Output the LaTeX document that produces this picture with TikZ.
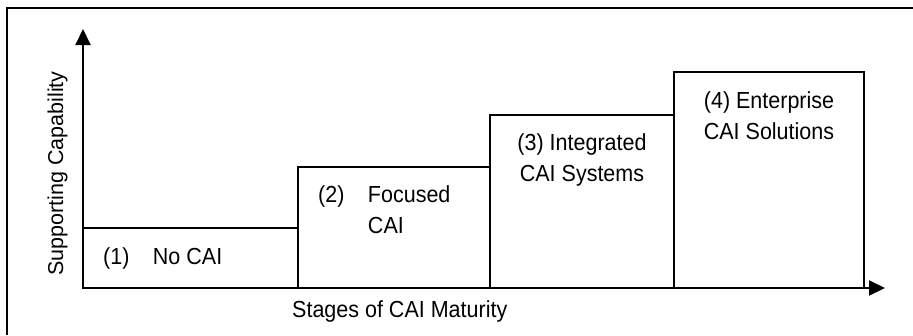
\documentclass[tikz,border=0pt]{standalone}
\usepackage{fontspec}
\setmainfont{Liberation Sans}
\usetikzlibrary{arrows.meta}

\tikzset{
    stagebox/.style = {draw = black, line width = 1.5pt},
    axis/.style     = {draw = black, line width = 2pt, {Triangle[width = 15pt, length = 16pt]}-{Triangle[width = 15pt, length = 16pt]}},
    labeltext/.style = {inner sep = 0pt, anchor = base},
    stagetext/.style = {labeltext, yscale = 1.08}
}

\begin{document}
\begin{tikzpicture}[x = 1pt, y = -1pt, font = \fontsize{21.5}{29.5}\selectfont]
            \useasboundingbox (0,0) rectangle (913,335);

            % Draw the frame:
            \draw [line width = 1.3pt] (7,335) -- (7,8) -- (913,8);

            % Draw the stages:
            \foreach \xa/\xb/\yt in {83/298/228, 298/490/167, 490/674/115, 674/864/72}
                \draw [stagebox] (\xa,288) rectangle (\xb,\yt);

            % Draw the axes:
            \coordinate (Origin) at (83,288);
            \coordinate (YTip) at (83,29);
            \coordinate (XTip) at (885,288);
            \draw [axis] (YTip) -- (Origin) -- (XTip);

            % Draw the stage labels:
            \node [stagetext, anchor = base west] (NoCAI) at (103,264) {(1)\hspace{23.5pt}No CAI};
            \node [stagetext, anchor = base west] (Focused) at (318,202)
                {\begin{tabular}[t]{@{}l@{\hspace{23.5pt}}l@{}}(2) & Focused\\ & CAI\end{tabular}};
            \node [stagetext] (Integrated) at (582,150)
                {\begin{tabular}[t]{@{}c@{}}(3) Integrated\\CAI Systems\end{tabular}};
            \node [stagetext] (Enterprise) at (769,108)
                {\begin{tabular}[t]{@{}c@{}}(4) Enterprise\\CAI Solutions\end{tabular}};

            % Draw the axis labels:
            \node [labeltext, rotate = 90] (Capability) at (63,173.5) {Supporting Capability};
            \node [stagetext, anchor = base west] (Maturity) at (292,317) {Stages of CAI Maturity};
        \end{tikzpicture}
\end{document}
